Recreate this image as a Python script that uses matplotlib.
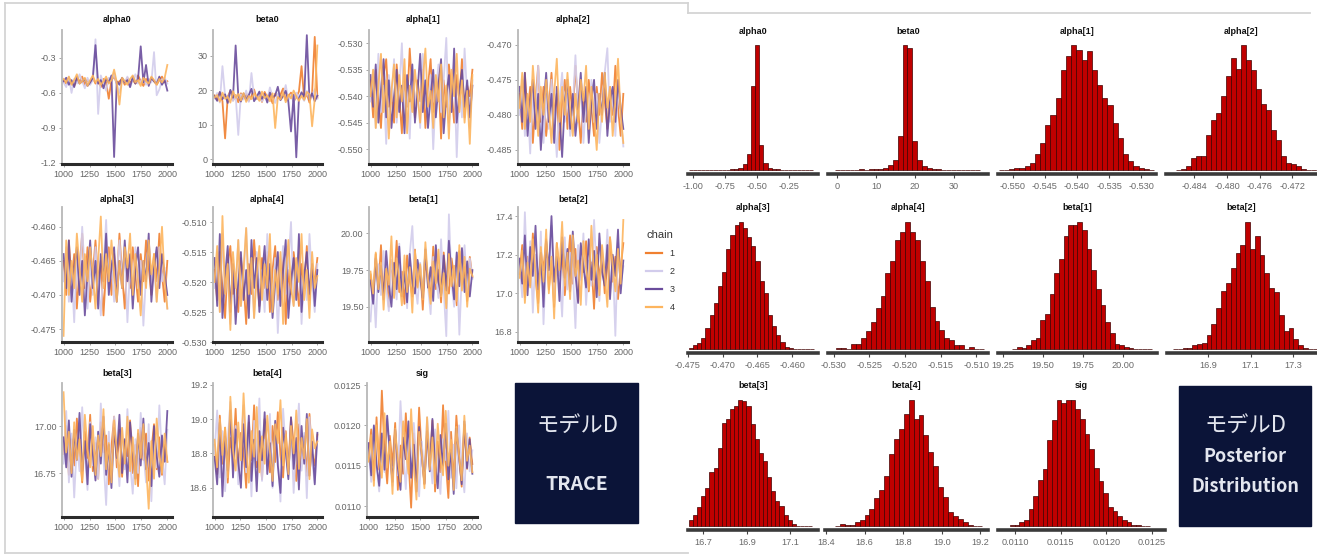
import numpy as np
import matplotlib
matplotlib.use("Agg")
import matplotlib.pyplot as plt
from matplotlib.lines import Line2D
from matplotlib.patches import Rectangle

plt.rcParams['font.family'] = ['Liberation Sans', 'DejaVu Sans']

W, H = 1317, 555

# ---- trace data (thinned draws) ----
iterations = np.linspace(1000, 2000, 40)
chain_labels = ['1', '2', '3', '4']
chain_colors = ['#f08030', '#d2ccec', '#6a4c9c', '#fdb55e']

alpha0_chains = [
    [-0.49, -0.52, -0.47, -0.51, -0.54, -0.48, -0.50, -0.46, -0.53, -0.49, -0.51, -0.47, -0.52, -0.50, -0.55, -0.48, -0.51, -0.65, -0.49, -0.46,
     -0.52, -0.50, -0.48, -0.53, -0.47, -0.51, -0.49, -0.52, -0.45, -0.50, -0.54, -0.48, -0.51, -0.47, -0.50, -0.53, -0.49, -0.46, -0.51, -0.50],
    [-0.51, -0.55, -0.46, -0.60, -0.48, -0.52, -0.44, -0.50, -0.56, -0.47, -0.53, -0.49, -0.14, -0.78, -0.45, -0.52, -0.58, -0.47, -0.50, -0.43,
     -0.53, -0.60, -0.48, -0.51, -0.46, -0.55, -0.49, -0.44, -0.52, -0.50, -0.47, -0.53, -0.48, -0.51, -0.25, -0.62, -0.57, -0.49, -0.47, -0.52],
    [-0.50, -0.47, -0.53, -0.49, -0.55, -0.46, -0.52, -0.50, -0.48, -0.54, -0.51, -0.47, -0.19, -0.52, -0.49, -0.56, -0.48, -0.51, -0.45, -1.15,
     -0.50, -0.53, -0.47, -0.51, -0.49, -0.55, -0.46, -0.52, -0.48, -0.20, -0.51, -0.36, -0.54, -0.47, -0.50, -0.52, -0.46, -0.53, -0.49, -0.58],
    [-0.48, -0.51, -0.46, -0.53, -0.49, -0.44, -0.52, -0.50, -0.47, -0.54, -0.49, -0.45, -0.51, -0.48, -0.53, -0.50, -0.46, -0.52, -0.49, -0.40,
     -0.51, -0.70, -0.47, -0.50, -0.53, -0.48, -0.45, -0.51, -0.49, -0.54, -0.47, -0.50, -0.52, -0.46, -0.49, -0.53, -0.48, -0.51, -0.47, -0.36],
]
beta0_chains = [
    [18.5, 17.2, 19.4, 16.8, 6.0, 18.1, 19.8, 17.0, 18.6, 16.5, 19.1, 17.7, 18.9, 16.9, 18.3, 20.2, 17.4, 18.8, 16.6, 19.5,
     17.9, 18.4, 16.2, 19.0, 17.6, 18.7, 20.5, 17.1, 18.2, 19.3, 16.7, 18.0, 19.6, 27.0, 17.3, 18.9, 16.4, 19.2, 35.5, 17.8],
    [17.6, 19.2, 16.4, 27.0, 18.3, 17.1, 19.7, 16.9, 18.5, 7.0, 18.8, 17.3, 19.9, 16.6, 25.0, 18.0, 17.5, 19.4, 16.8, 18.6,
     17.2, 20.8, 18.1, 16.3, 19.0, 17.7, 18.4, 21.5, 17.0, 18.7, 16.5, 19.3, 17.9, 18.2, 16.9, 19.8, 17.4, 18.6, 20.3, 17.5],
    [18.2, 16.9, 19.5, 17.4, 18.8, 16.3, 20.1, 17.8, 33.0, 18.4, 16.7, 19.0, 17.2, 18.6, 20.4, 16.8, 18.1, 19.6, 17.5, 18.9,
     16.4, 19.3, 17.9, 18.5, 21.0, 17.1, 18.3, 19.8, 16.6, 8.0, 18.7, 0.5, 17.6, 19.4, 18.0, 36.0, 17.3, 19.1, 16.8, 18.4],
    [17.9, 18.6, 16.7, 19.3, 17.5, 18.1, 16.4, 19.7, 17.8, 18.9, 17.0, 19.2, 16.6, 18.3, 17.4, 19.0, 18.2, 16.9, 19.6, 17.7,
     18.5, 16.8, 19.1, 9.0, 18.0, 17.3, 19.4, 16.5, 18.7, 17.6, 19.9, 18.1, 16.9, 18.4, 17.2, 19.5, 18.8, 9.5, 17.4, 33.0],
]
alpha1_chains = [
    [-0.537, -0.544, -0.535, -0.541, -0.546, -0.536, -0.533, -0.542, -0.539, -0.545, -0.534, -0.540, -0.547, -0.536, -0.542, -0.531, -0.539, -0.544, -0.537, -0.541,
     -0.535, -0.546, -0.538, -0.533, -0.543, -0.540, -0.536, -0.548, -0.537, -0.542, -0.534, -0.539, -0.545, -0.536, -0.541, -0.533, -0.544, -0.538, -0.540, -0.535],
    [-0.541, -0.535, -0.546, -0.532, -0.543, -0.538, -0.549, -0.536, -0.541, -0.533, -0.545, -0.539, -0.530, -0.544, -0.537, -0.548, -0.535, -0.542, -0.538, -0.546,
     -0.532, -0.540, -0.544, -0.536, -0.550, -0.539, -0.534, -0.543, -0.537, -0.529, -0.545, -0.541, -0.535, -0.5515, -0.538, -0.544, -0.531, -0.540, -0.546, -0.537],
    [-0.536, -0.542, -0.534, -0.545, -0.539, -0.533, -0.544, -0.537, -0.546, -0.540, -0.535, -0.543, -0.538, -0.547, -0.536, -0.541, -0.534, -0.545, -0.539, -0.532,
     -0.543, -0.537, -0.546, -0.540, -0.535, -0.544, -0.538, -0.533, -0.547, -0.540, -0.536, -0.543, -0.531, -0.545, -0.539, -0.535, -0.542, -0.537, -0.544, -0.538],
    [-0.540, -0.535, -0.546, -0.538, -0.532, -0.543, -0.537, -0.548, -0.539, -0.534, -0.544, -0.536, -0.541, -0.533, -0.547, -0.538, -0.543, -0.535, -0.540, -0.545,
     -0.537, -0.531, -0.542, -0.539, -0.546, -0.536, -0.541, -0.534, -0.544, -0.538, -0.548, -0.535, -0.540, -0.532, -0.543, -0.537, -0.545, -0.539, -0.549, -0.536],
]
alpha2_chains = [
    [-0.477, -0.482, -0.474, -0.480, -0.476, -0.484, -0.478, -0.473, -0.481, -0.476, -0.483, -0.479, -0.474, -0.480, -0.477, -0.485, -0.478, -0.475, -0.482, -0.476,
     -0.480, -0.473, -0.479, -0.484, -0.477, -0.481, -0.475, -0.479, -0.483, -0.476, -0.480, -0.474, -0.478, -0.482, -0.476, -0.480, -0.473, -0.479, -0.483, -0.477],
    [-0.480, -0.475, -0.483, -0.478, -0.4855, -0.476, -0.481, -0.473, -0.479, -0.484, -0.477, -0.482, -0.475, -0.480, -0.486, -0.478, -0.474, -0.481, -0.477, -0.483,
     -0.479, -0.4715, -0.480, -0.476, -0.484, -0.478, -0.482, -0.475, -0.481, -0.477, -0.484, -0.479, -0.474, -0.4705, -0.481, -0.477, -0.483, -0.476, -0.480, -0.4845],
    [-0.476, -0.481, -0.474, -0.483, -0.478, -0.475, -0.482, -0.477, -0.485, -0.479, -0.474, -0.481, -0.477, -0.484, -0.476, -0.480, -0.486, -0.478, -0.475, -0.482,
     -0.477, -0.483, -0.479, -0.474, -0.481, -0.476, -0.484, -0.478, -0.475, -0.482, -0.477, -0.480, -0.474, -0.483, -0.478, -0.476, -0.481, -0.475, -0.479, -0.482],
    [-0.479, -0.474, -0.482, -0.477, -0.481, -0.473, -0.478, -0.483, -0.476, -0.480, -0.475, -0.479, -0.484, -0.477, -0.472, -0.481, -0.476, -0.480, -0.474, -0.479,
     -0.483, -0.477, -0.481, -0.475, -0.478, -0.473, -0.482, -0.476, -0.480, -0.485, -0.477, -0.481, -0.474, -0.479, -0.476, -0.483, -0.478, -0.472, -0.480, -0.484],
]
alpha3_chains = [
    [-0.465, -0.470, -0.462, -0.468, -0.464, -0.472, -0.466, -0.461, -0.469, -0.463, -0.471, -0.467, -0.462, -0.468, -0.465, -0.473, -0.466, -0.463, -0.470, -0.464,
     -0.468, -0.461, -0.467, -0.472, -0.465, -0.469, -0.463, -0.467, -0.471, -0.464, -0.468, -0.462, -0.466, -0.470, -0.464, -0.468, -0.461, -0.467, -0.471, -0.465],
    [-0.468, -0.463, -0.471, -0.466, -0.474, -0.464, -0.469, -0.460, -0.467, -0.472, -0.465, -0.470, -0.463, -0.468, -0.473, -0.466, -0.459, -0.469, -0.465, -0.471,
     -0.467, -0.462, -0.468, -0.464, -0.474, -0.466, -0.470, -0.463, -0.469, -0.465, -0.4745, -0.467, -0.462, -0.469, -0.465, -0.471, -0.463, -0.468, -0.466, -0.472],
    [-0.464, -0.469, -0.462, -0.471, -0.466, -0.463, -0.470, -0.465, -0.473, -0.467, -0.462, -0.469, -0.465, -0.472, -0.464, -0.468, -0.461, -0.470, -0.466, -0.463,
     -0.471, -0.465, -0.469, -0.462, -0.468, -0.464, -0.472, -0.466, -0.463, -0.470, -0.465, -0.468, -0.461, -0.471, -0.466, -0.463, -0.469, -0.464, -0.467, -0.470],
    [-0.476, -0.462, -0.470, -0.465, -0.469, -0.461, -0.466, -0.471, -0.464, -0.468, -0.463, -0.467, -0.472, -0.465, -0.4585, -0.469, -0.464, -0.468, -0.462, -0.467,
     -0.471, -0.465, -0.469, -0.463, -0.466, -0.461, -0.470, -0.464, -0.468, -0.473, -0.465, -0.469, -0.462, -0.467, -0.464, -0.471, -0.466, -0.460, -0.468, -0.472],
]
alpha4_chains = [
    [-0.518, -0.523, -0.515, -0.521, -0.526, -0.517, -0.514, -0.522, -0.519, -0.525, -0.516, -0.520, -0.527, -0.517, -0.522, -0.513, -0.519, -0.524, -0.516, -0.521,
     -0.515, -0.525, -0.518, -0.514, -0.523, -0.520, -0.516, -0.527, -0.518, -0.522, -0.515, -0.519, -0.524, -0.517, -0.521, -0.514, -0.523, -0.518, -0.520, -0.516],
    [-0.521, -0.515, -0.525, -0.512, -0.522, -0.518, -0.527, -0.516, -0.521, -0.513, -0.524, -0.519, -0.511, -0.523, -0.517, -0.526, -0.515, -0.521, -0.518, -0.525,
     -0.512, -0.520, -0.524, -0.516, -0.5285, -0.519, -0.514, -0.522, -0.517, -0.510, -0.524, -0.520, -0.515, -0.527, -0.518, -0.523, -0.512, -0.520, -0.525, -0.517],
    [-0.516, -0.524, -0.512, -0.526, -0.519, -0.514, -0.525, -0.517, -0.527, -0.520, -0.515, -0.523, -0.518, -0.526, -0.513, -0.521, -0.516, -0.525, -0.519, -0.514,
     -0.523, -0.517, -0.526, -0.520, -0.515, -0.524, -0.518, -0.513, -0.526, -0.520, -0.516, -0.523, -0.512, -0.525, -0.519, -0.515, -0.522, -0.517, -0.524, -0.518],
    [-0.520, -0.514, -0.525, -0.509, -0.522, -0.517, -0.528, -0.515, -0.521, -0.513, -0.524, -0.518, -0.511, -0.522, -0.516, -0.526, -0.519, -0.514, -0.523, -0.517,
     -0.521, -0.512, -0.525, -0.518, -0.522, -0.515, -0.527, -0.519, -0.513, -0.521, -0.524, -0.516, -0.520, -0.512, -0.523, -0.518, -0.526, -0.515, -0.521, -0.519],
]
beta1_chains = [
    [19.72, 19.55, 19.86, 19.63, 19.92, 19.58, 19.76, 19.50, 19.81, 19.66, 19.95, 19.60, 19.74, 19.52, 19.85, 19.68, 19.57, 19.89, 19.64, 19.78,
     19.48, 19.82, 19.69, 19.56, 19.91, 19.62, 19.75, 19.53, 19.87, 19.67, 19.59, 19.83, 19.71, 19.51, 19.88, 19.65, 19.77, 19.54, 19.84, 19.70],
    [19.40, 19.68, 19.36, 19.79, 19.58, 19.88, 19.63, 19.47, 19.82, 19.70, 19.55, 19.93, 19.61, 19.77, 19.49, 19.86, 20.05, 19.66, 19.52, 19.80,
     19.59, 19.90, 19.64, 19.45, 19.84, 19.71, 19.56, 19.96, 19.62, 19.30, 20.13, 19.67, 19.50, 19.87, 19.31, 19.75, 19.92, 19.60, 19.83, 19.69],
    [19.68, 19.52, 19.83, 19.60, 19.78, 19.55, 19.88, 19.65, 19.50, 19.80, 19.62, 19.91, 19.57, 19.74, 19.53, 19.86, 19.66, 19.59, 19.82, 19.70,
     19.56, 19.89, 19.63, 19.77, 19.54, 19.92, 19.67, 19.58, 19.85, 19.61, 19.95, 19.72, 19.55, 19.87, 19.64, 19.90, 19.60, 19.81, 19.57, 19.75],
    [19.74, 19.59, 19.87, 19.62, 19.80, 19.48, 19.76, 19.65, 19.98, 19.56, 19.83, 19.69, 19.51, 19.85, 19.60, 19.77, 19.46, 19.88, 19.63, 19.79,
     19.55, 19.94, 19.68, 19.52, 19.81, 19.66, 19.89, 19.57, 19.73, 19.49, 19.86, 19.64, 19.78, 19.54, 19.92, 19.61, 19.84, 19.50, 19.76, 19.71],
]
beta2_chains = [
    [17.10, 17.25, 16.98, 17.19, 17.04, 17.31, 17.08, 16.95, 17.22, 17.12, 17.28, 17.02, 17.17, 16.93, 17.26, 17.09, 17.20, 16.99, 17.14, 17.30,
     17.05, 17.23, 16.96, 17.18, 17.11, 17.27, 17.01, 17.16, 16.92, 17.24, 17.07, 17.21, 17.00, 17.15, 17.29, 17.06, 17.19, 16.97, 17.13, 17.26],
    [17.15, 16.98, 17.42, 17.06, 17.27, 16.90, 17.20, 17.03, 17.32, 16.84, 17.18, 17.09, 17.35, 16.95, 17.23, 17.11, 16.88, 17.29, 17.02, 17.21,
     17.13, 16.82, 17.25, 17.07, 17.31, 16.94, 17.17, 17.04, 17.38, 17.10, 16.96, 17.24, 17.08, 17.33, 16.99, 17.19, 16.78, 17.26, 17.05, 17.14],
    [17.18, 17.05, 17.30, 16.99, 17.24, 17.09, 17.35, 17.02, 17.21, 16.93, 17.27, 17.12, 17.40, 17.06, 17.19, 16.96, 17.29, 17.08, 17.23, 17.01,
     17.32, 17.10, 16.95, 17.26, 17.14, 17.03, 17.28, 17.07, 17.22, 16.98, 17.31, 17.11, 17.04, 17.25, 16.97, 17.20, 17.09, 17.33, 17.00, 17.17],
    [17.08, 17.22, 16.95, 17.16, 17.03, 17.28, 17.11, 16.90, 17.24, 17.06, 17.33, 17.00, 17.19, 16.87, 17.26, 17.12, 17.37, 17.04, 17.21, 16.97,
     17.30, 17.09, 17.17, 16.94, 17.27, 17.13, 17.02, 17.35, 17.07, 17.20, 16.99, 17.25, 17.10, 16.93, 17.29, 17.15, 17.01, 17.23, 17.05, 17.38],
]
beta3_chains = [
    [16.85, 17.00, 16.74, 16.93, 16.79, 17.04, 16.88, 16.70, 16.97, 16.83, 17.06, 16.76, 16.91, 16.72, 17.02, 16.86, 16.95, 16.69, 16.89, 17.05,
     16.78, 16.98, 16.73, 16.92, 16.84, 17.03, 16.75, 16.90, 16.68, 16.99, 16.82, 16.96, 16.71, 16.87, 17.01, 16.77, 16.94, 16.74, 16.90, 16.81],
    [16.80, 17.08, 16.70, 16.96, 16.62, 16.91, 16.76, 17.10, 16.85, 16.66, 17.02, 16.79, 16.94, 16.72, 17.12, 16.83, 16.58, 16.97, 16.74, 17.05,
     16.87, 16.68, 16.99, 16.77, 17.09, 16.81, 16.64, 16.93, 16.75, 17.07, 16.86, 16.70, 17.01, 16.60, 16.95, 16.78, 17.11, 16.84, 16.69, 16.98],
    [16.94, 16.78, 17.03, 16.73, 16.98, 16.82, 17.07, 16.76, 16.92, 16.69, 17.01, 16.85, 16.71, 16.97, 16.80, 17.05, 16.74, 16.90, 16.67, 16.99,
     16.83, 17.06, 16.75, 16.93, 16.70, 17.02, 16.86, 16.72, 16.96, 16.79, 17.04, 16.77, 16.91, 16.68, 17.00, 16.84, 16.73, 16.95, 16.81, 17.08],
    [17.18, 16.86, 16.97, 16.75, 17.02, 16.82, 16.93, 16.71, 17.06, 16.88, 16.78, 17.00, 16.74, 16.95, 16.84, 17.09, 16.77, 16.91, 16.70, 17.03,
     16.87, 16.73, 16.99, 16.80, 17.05, 16.76, 16.94, 16.69, 16.98, 16.83, 17.01, 16.79, 16.56, 16.92, 16.72, 17.04, 16.85, 16.75, 16.96, 16.81],
]
beta4_chains = [
    [18.85, 18.68, 19.02, 18.74, 18.95, 18.63, 18.89, 18.78, 19.06, 18.70, 18.92, 18.81, 18.60, 18.98, 18.76, 19.08, 18.72, 18.87, 18.65, 19.00,
     18.83, 18.69, 18.96, 18.75, 19.04, 18.79, 18.66, 18.93, 18.71, 19.01, 18.86, 18.64, 18.97, 18.77, 18.90, 18.67, 19.03, 18.80, 18.73, 18.91],
    [18.80, 19.05, 18.66, 18.93, 18.58, 18.87, 19.10, 18.71, 18.96, 18.62, 18.84, 19.08, 18.69, 18.91, 18.55, 18.99, 18.76, 19.12, 18.64, 18.88,
     18.73, 19.03, 18.60, 18.94, 18.78, 18.52, 19.06, 18.82, 18.67, 18.97, 18.57, 18.86, 19.09, 18.70, 18.92, 18.54, 19.01, 18.75, 18.63, 18.89],
    [18.78, 18.62, 18.98, 18.55, 18.90, 18.70, 19.05, 18.66, 18.94, 18.75, 18.60, 18.97, 18.72, 19.02, 18.64, 18.88, 18.58, 18.93, 18.76, 19.04,
     18.68, 18.86, 18.61, 18.99, 18.73, 18.57, 18.95, 18.81, 18.65, 19.01, 18.71, 18.89, 18.59, 18.96, 18.74, 19.03, 18.67, 18.87, 18.62, 18.92],
    [18.88, 18.72, 19.00, 18.79, 18.95, 18.66, 19.13, 18.82, 18.70, 18.98, 18.76, 19.15, 18.84, 18.63, 18.93, 18.78, 19.07, 18.69, 18.90, 18.74,
     19.02, 18.81, 18.64, 18.97, 18.86, 19.11, 18.73, 18.91, 18.68, 18.96, 18.80, 19.05, 18.71, 18.89, 18.77, 19.00, 18.65, 18.94, 18.83, 18.87],
]
sig_chains = [
    [0.01160, 0.01195, 0.01132, 0.01210, 0.01145, 0.01243, 0.01168, 0.01128, 0.01187, 0.01150, 0.01203, 0.01120, 0.01175, 0.01140, 0.01215, 0.01158, 0.01098, 0.01190, 0.01135, 0.01222,
     0.01163, 0.01127, 0.01198, 0.01148, 0.01206, 0.01118, 0.01180, 0.01142, 0.01225, 0.01155, 0.01110, 0.01192, 0.01137, 0.01212, 0.01166, 0.01124, 0.01201, 0.01146, 0.01185, 0.01152],
    [0.01172, 0.01130, 0.01198, 0.01150, 0.01118, 0.01185, 0.01142, 0.01208, 0.01160, 0.01125, 0.01192, 0.01138, 0.01230, 0.01167, 0.01121, 0.01188, 0.01146, 0.01203, 0.01155, 0.01112,
     0.01180, 0.01140, 0.01210, 0.01164, 0.01128, 0.01195, 0.01148, 0.01115, 0.01183, 0.01157, 0.01218, 0.01135, 0.01176, 0.01122, 0.01200, 0.01152, 0.01117, 0.01190, 0.01143, 0.01169],
    [0.01178, 0.01138, 0.01200, 0.01152, 0.01125, 0.01190, 0.01145, 0.01212, 0.01165, 0.01130, 0.01195, 0.01148, 0.01120, 0.01185, 0.01158, 0.01205, 0.01135, 0.01176, 0.01118, 0.01198,
     0.01162, 0.01128, 0.01193, 0.01143, 0.01208, 0.01155, 0.01122, 0.01188, 0.01150, 0.01202, 0.01133, 0.01170, 0.01115, 0.01196, 0.01160, 0.01127, 0.01205, 0.01147, 0.01183, 0.01140],
    [0.01155, 0.01188, 0.01125, 0.01200, 0.01162, 0.01135, 0.01215, 0.01148, 0.01180, 0.01115, 0.01196, 0.01158, 0.01130, 0.01205, 0.01170, 0.01140, 0.01220, 0.01152, 0.01108, 0.01192,
     0.01165, 0.01122, 0.01210, 0.01145, 0.01185, 0.01128, 0.01202, 0.01160, 0.01138, 0.01218, 0.01150, 0.01182, 0.01120, 0.01198, 0.01163, 0.01132, 0.01212, 0.01156, 0.01175, 0.01142],
]

# ---- posterior histograms: relative bar heights (30 bins) and bin range ----
alpha0_hist = [0.3, 0.3, 0.4, 0.3, 0.3, 0.4, 0.3, 0.4, 0.5, 0.4, 0.6, 0.8, 2, 5, 13, 67, 100, 20, 6, 2,
               1, 0.6, 0.4, 0.3, 0.4, 0.3, 0.3, 0.4, 0.3, 0.3]
beta0_hist = [0.4, 0.3, 0.5, 0.3, 0.4, 0.6, 0.5, 0.8, 1.0, 1.2, 2, 4, 8, 27, 100, 98, 23, 8, 3, 1.5,
              0.8, 0.6, 0.5, 0.4, 0.5, 0.3, 0.5, 0.4, 0.3, 0.4]
alpha1_hist = [0.3, 0.5, 1, 1.5, 2, 3, 6, 13, 22, 36, 44, 58, 80, 91, 100, 96, 88, 95, 80, 68,
               58, 52, 38, 26, 13, 7, 3, 2, 1, 0.5]
alpha2_hist = [0.3, 1, 3, 10, 11, 11, 28, 40, 46, 59, 75, 90, 81, 100, 88, 80, 65, 53, 48, 32,
               24, 11, 6, 5, 3, 1, 0.5, 0.3, 0.2, 0.1]
alpha3_hist = [1, 3, 5, 9, 17, 27, 36, 50, 61, 79, 90, 98, 100, 95, 88, 81, 69, 54, 44, 27,
               18, 11, 6, 2, 1, 0.5, 0.5, 0.3, 0.3, 0.2]
alpha4_hist = [1, 1, 0.5, 4, 4, 9, 14, 21, 32, 42, 60, 69, 86, 92, 100, 92, 86, 69, 54, 33,
               22, 15, 9, 7, 3, 3, 0.5, 2, 0.5, 0.3]
beta1_hist = [0.5, 2, 1, 3, 7, 9, 23, 28, 43, 60, 71, 89, 98, 98, 100, 94, 79, 62, 47, 35,
              21, 13, 4, 3, 2, 1, 0.5, 0.5, 0.3, 0.3]
beta2_hist = [0.3, 0.5, 1, 1, 3, 4, 5, 11, 20, 32, 46, 52, 64, 76, 82, 100, 79, 89, 74, 60,
              48, 45, 27, 14, 17, 8, 3, 1, 0.5, 0.3]
beta3_hist = [5, 9, 15, 24, 30, 43, 46, 62, 82, 85, 93, 95, 100, 99, 95, 81, 69, 58, 52, 39,
              28, 20, 16, 9, 5, 2, 0.5, 0.5, 0.3, 0.3]
beta4_hist = [0.5, 2, 1, 1, 3, 5, 9, 14, 22, 29, 40, 57, 69, 77, 89, 100, 85, 88, 72, 59,
              48, 31, 23, 11, 8, 6, 3, 1, 0.5, 0.3]
sig_hist = [1, 1, 3, 5, 14, 24, 37, 45, 68, 84, 100, 98, 100, 100, 93, 85, 73, 61, 46, 36,
            26, 15, 12, 8, 5, 3, 1, 1, 0.5, 0.3]

alpha0_bins = (-1.035, -0.06)
beta0_bins = (-0.5, 36.6)
alpha1_bins = (-0.5522, -0.5280)
alpha2_bins = (-0.4862, -0.4679)
alpha3_bins = (-0.4749, -0.4569)
alpha4_bins = (-0.5296, -0.5090)
beta1_bins = (19.31, 20.18)
beta2_bins = (16.735, 17.415)
beta3_bins = (16.635, 17.200)
beta4_bins = (18.447, 19.210)
sig_bins = (0.010945, 0.012478)


def box(x0, y0, x1, y1):
    return [x0 / W, 1 - y1 / H, (x1 - x0) / W, (y1 - y0) / H]


fig = plt.figure(figsize=(W / 100, H / 100), dpi=100)

# panel outlines (left screenshot frame, top edge of the right one)
border = '#d4d4d4'
for xs, ys in [((5, 688), (3, 3)), ((5, 5), (3, 553)), ((5, 688), (553, 553)),
               ((688, 688), (3, 13)), ((688, 1310), (13, 13))]:
    fig.add_artist(Line2D([x / W for x in xs], [1 - y / H for y in ys],
                          color=border, lw=1.3, transform=fig.transFigure))

# ---- trace plots ----
traces = [
    ('alpha0', alpha0_chains, (-1.21, -0.06), [-1.2, -0.9, -0.6, -0.3], '{:.1f}', (62, 30, 172, 164), 20),
    ('beta0', beta0_chains, (-1.45, 37.5), [0, 10, 20, 30], '{:.0f}', (213, 30, 322, 164), 20),
    ('alpha[1]', alpha1_chains, (-0.5528, -0.5275), [-0.550, -0.545, -0.540, -0.535, -0.530], '{:.3f}', (369, 30, 477, 164), 20),
    ('alpha[2]', alpha2_chains, (-0.4870, -0.4679), [-0.485, -0.480, -0.475, -0.470], '{:.3f}', (518, 30, 628, 164), 20),
    ('alpha[3]', alpha3_chains, (-0.4769, -0.4571), [-0.475, -0.470, -0.465, -0.460], '{:.3f}', (62, 207, 172, 342), 200),
    ('alpha[4]', alpha4_chains, (-0.5299, -0.5075), [-0.530, -0.525, -0.520, -0.515, -0.510], '{:.3f}', (213, 207, 322, 342), 200),
    ('beta[1]', beta1_chains, (19.26, 20.18), [19.50, 19.75, 20.00], '{:.2f}', (369, 207, 477, 342), 200),
    ('beta[2]', beta2_chains, (16.748, 17.447), [16.8, 17.0, 17.2, 17.4], '{:.1f}', (518, 207, 628, 342), 200),
    ('beta[3]', beta3_chains, (16.516, 17.229), [16.75, 17.00], '{:.2f}', (62, 383, 172, 517), 373),
    ('beta[4]', beta4_chains, (18.43, 19.21), [18.6, 18.8, 19.0, 19.2], '{:.1f}', (213, 383, 322, 517), 373),
    ('sig', sig_chains, (0.010864, 0.012525), [0.0110, 0.0115, 0.0120, 0.0125], '{:.4f}', (367, 383, 477, 517), 373),
]

for name, chains, ylim, yticks, fmt, (x0, y0, x1, y1), ty in traces:
    ax = fig.add_axes(box(x0, y0, x1, y1))
    for vals, col in zip(chains, chain_colors):
        ax.plot(iterations, vals, color=col, lw=1.3, alpha=0.9)
    ax.set_xlim(985, 2045)
    ax.set_ylim(*ylim)
    ax.set_xticks([1000, 1250, 1500, 1750, 2000])
    ax.set_yticks(yticks)
    ax.set_yticklabels([fmt.format(v) for v in yticks])
    for s in ['top', 'right']:
        ax.spines[s].set_visible(False)
    ax.spines['left'].set_color('#b8b8b8')
    ax.spines['left'].set_linewidth(1.3)
    ax.spines['bottom'].set_color('#2b2b2b')
    ax.spines['bottom'].set_linewidth(2.2)
    ax.tick_params(labelsize=6.5, labelcolor='#666666', length=2, width=0.6,
                   color='#999999', pad=2)
    fig.text((x0 + x1) / 2 / W, 1 - ty / H, name, ha='center', va='center',
             fontsize=6.5, fontweight='bold', color='#111111')

handles = [Line2D([], [], color=c, lw=1.6) for c in chain_colors]
leg = fig.legend(handles, chain_labels, title='chain', loc='upper left',
                 bbox_to_anchor=(638 / W, 1 - 222 / H), frameon=False,
                 fontsize=6.5, title_fontsize=8, handlelength=1.8,
                 labelspacing=1.0, handletextpad=0.8)
leg.get_title().set_color('#333333')
for t in leg.get_texts():
    t.set_color('#333333')

# ---- posterior histograms ----
hists = [
    ('alpha0', alpha0_hist, alpha0_bins, (-1.039, -0.023), [-1.0, -0.75, -0.5, -0.25], '{:.2f}', (688, 45, 818, 174), 32),
    ('beta0', beta0_hist, beta0_bins, (-2.3, 38.7), [0, 10, 20, 30], '{:.0f}', (828, 45, 988, 174), 32),
    ('alpha[1]', alpha1_hist, alpha1_bins, (-0.5523, -0.5277), [-0.550, -0.545, -0.540, -0.535, -0.530], '{:.3f}', (998, 45, 1156, 174), 32),
    ('alpha[2]', alpha2_hist, alpha2_bins, (-0.48746, -0.4674), [-0.484, -0.480, -0.476, -0.472], '{:.3f}', (1166, 45, 1330, 174), 32),
    ('alpha[3]', alpha3_hist, alpha3_bins, (-0.47295, -0.45628), [-0.475, -0.470, -0.465, -0.460], '{:.3f}', (688, 222, 818, 353), 208),
    ('alpha[4]', alpha4_hist, alpha4_bins, (-0.53077, -0.50839), [-0.530, -0.525, -0.520, -0.515, -0.510], '{:.3f}', (828, 222, 988, 353), 208),
    ('beta[1]', beta1_hist, beta1_bins, (19.2195, 20.213), [19.25, 19.50, 19.75, 20.00], '{:.2f}', (998, 222, 1157, 353), 208),
    ('beta[2]', beta2_hist, beta2_bins, (16.707, 17.474), [16.9, 17.1, 17.3], '{:.1f}', (1167, 222, 1330, 353), 208),
    ('beta[3]', beta3_hist, beta3_bins, (16.631, 17.226), [16.7, 16.9, 17.1], '{:.1f}', (688, 400, 818, 530), 385),
    ('beta[4]', beta4_hist, beta4_bins, (18.395, 19.239), [18.4, 18.6, 18.8, 19.0, 19.2], '{:.1f}', (825, 400, 988, 530), 385),
    ('sig', sig_hist, sig_bins, (0.010814, 0.012642), [0.0110, 0.0115, 0.0120, 0.0125], '{:.4f}', (998, 400, 1165, 530), 385),
]

for name, counts, (lo, hi), xlim, xticks, fmt, (x0, y0, x1, y1), ty in hists:
    ax = fig.add_axes(box(x0, y0, x1, y1))
    edges = np.linspace(lo, hi, len(counts) + 1)
    ax.bar(edges[:-1], counts, width=np.diff(edges), align='edge',
           color='#c00000', edgecolor='#400000', linewidth=0.5)
    ax.set_xlim(*xlim)
    ax.set_ylim(-3, 100)
    ax.set_xticks(xticks)
    ax.set_xticklabels([fmt.format(v) for v in xticks])
    ax.set_yticks([])
    for s in ['top', 'right', 'left']:
        ax.spines[s].set_visible(False)
    ax.spines['bottom'].set_color('#3a3a3a')
    ax.spines['bottom'].set_linewidth(2.6)
    ax.tick_params(axis='x', labelsize=6.6, labelcolor='#6a6a6a', length=3,
                   width=0.8, color='#444444', pad=3)
    cx = (x0 + x1) / 2 if x1 <= W else (x0 + x1 - 14) / 2
    fig.text(cx / W, 1 - ty / H, name, ha='center', va='center',
             fontsize=6.5, fontweight='bold', color='#111111')

# ---- label boxes ----
navy = '#0b1438'
jp = ['Noto Sans CJK JP', 'DejaVu Sans']
fig.add_artist(Rectangle((515 / W, 1 - 523 / H), 123 / W, 140 / H,
                         transform=fig.transFigure, color=navy))
fig.text(577 / W, 1 - 425 / H, 'モデルD', ha='center', va='center',
         fontsize=16, color='#e3e6ef', family=jp)
fig.text(577 / W, 1 - 484 / H, 'TRACE', ha='center', va='center',
         fontsize=14, fontweight='bold', color='#e3e6ef', family=jp)

fig.add_artist(Rectangle((1179 / W, 1 - 526 / H), 132 / W, 140 / H,
                         transform=fig.transFigure, color=navy))
fig.text(1245 / W, 1 - 425 / H, 'モデルD', ha='center', va='center',
         fontsize=16, color='#e3e6ef', family=jp)
fig.text(1245 / W, 1 - 457 / H, 'Posterior', ha='center', va='center',
         fontsize=13, fontweight='bold', color='#e3e6ef', family=jp)
fig.text(1245 / W, 1 - 486 / H, 'Distribution', ha='center', va='center',
         fontsize=13, fontweight='bold', color='#e3e6ef', family=jp)

fig.savefig('out.png', dpi=100)
